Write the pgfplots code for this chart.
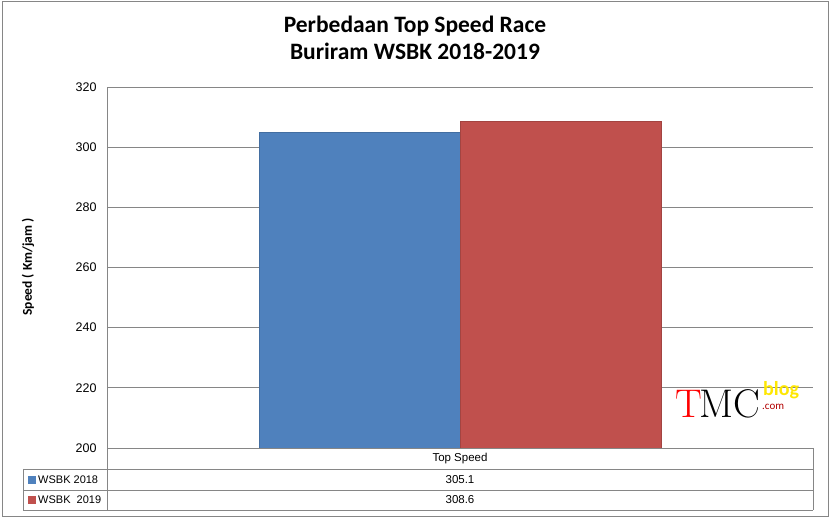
\documentclass[border=0pt]{standalone}
\usepackage{pgfplots}
\pgfplotsset{compat=1.18}
\usepackage{fontspec}
\setmainfont{Carlito}
\newfontfamily\tickfont{Liberation Sans}
\definecolor{xblue}{RGB}{79,129,189}
\definecolor{xred}{RGB}{192,80,77}
\definecolor{xgrid}{RGB}{134,134,134}
\begin{document}
\begin{tikzpicture}[x=1pt,y=1pt]
\useasboundingbox (0,0) rectangle (831,519);
\draw[xgrid,line width=1pt] (2,2) rectangle (828.5,517.5);
\begin{axis}[
  at={(107pt,71pt)}, anchor=south west,
  scale only axis, width=706pt, height=361pt,
  ymin=200, ymax=320, ytick={200,220,...,320},
  xmin=-1, xmax=1, xtick=\empty,
  ymajorgrids, grid style={xgrid,line width=0.8pt},
  axis line style={xgrid,line width=0.8pt},
  axis x line*=bottom, axis y line*=left,
  major tick length=0pt,
  yticklabel style={font=\tickfont\fontsize{12.5}{14}\selectfont, xshift=-7pt},
  /pgf/number format/assume math mode=true,
  ybar, bar width=201pt,
  clip=false,
]
\addplot[fill=xblue, draw=xblue!85!black, bar shift=-100.5pt] coordinates {(0,305.1)};
\addplot[fill=xred, draw=xred!85!black, bar shift=100.5pt] coordinates {(0,308.6)};
\end{axis}
% title
\node[font=\fontsize{23.5}{27}\selectfont\bfseries, anchor=base, inner sep=0pt] at (415,486) {Perbedaan Top Speed Race};
\node[font=\fontsize{23.5}{27}\selectfont\bfseries, anchor=base, inner sep=0pt] at (415,459) {Buriram WSBK 2018-2019};
% y label
\node[font=\fontsize{13.5}{15}\selectfont\bfseries, rotate=90] at (28,252) {Speed ( Km/jam )};
% data table
\begin{scope}[xgrid, line width=0.8pt]
\draw (107,71) -- (107,9) (813,71) -- (813,9);
\draw (107,71) -- (813,71);
\draw (23,50) -- (813,50);
\draw (23,29) -- (813,29);
\draw (23,9) -- (813,9);
\draw (23,50) -- (23,9);
\end{scope}
\begin{scope}[font=\tickfont\fontsize{11.5}{13}\selectfont]
\node at (460,60.5) {Top Speed};
\node at (460,39.5) {305.1};
\node at (460,19) {308.6};
\end{scope}
\begin{scope}[font=\tickfont\fontsize{11}{13}\selectfont]
\node[anchor=west, inner sep=0pt] at (38,39.5) {WSBK 2018};
\node[anchor=west, inner sep=0pt] at (38,19) {WSBK \ 2019};
\end{scope}
\fill[xblue] (28,35) rectangle (36,43);
\fill[xred] (28,15) rectangle (36,23);
% logo
\node[anchor=base west, inner sep=0pt, font=\fontfamily{lmr}\fontsize{40}{40}\selectfont] at (675,101) {\textcolor{red}{T}\kern-2pt MC};
\node[anchor=base west, inner sep=0pt, font=\fontsize{20}{20}\selectfont\bfseries, text=yellow!90!orange] at (763,123) {blog};
\node[anchor=base west, inner sep=0pt, font=\fontsize{11}{11}\selectfont, text=red!70!black] at (762,109) {.com};
\end{tikzpicture}
\end{document}
